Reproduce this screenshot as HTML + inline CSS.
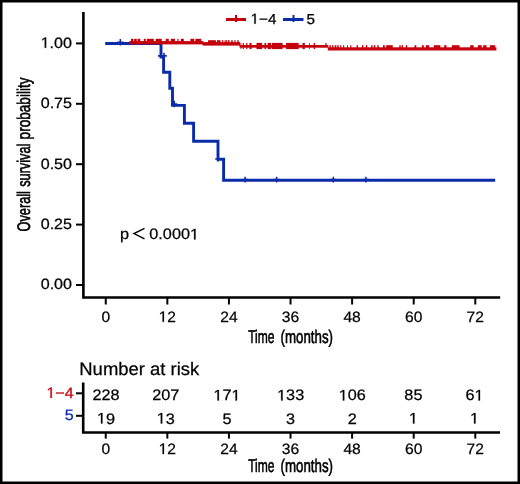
<!DOCTYPE html>
<html><head><meta charset="utf-8"><style>
html,body{margin:0;padding:0;background:#fff;}
body{width:520px;height:484px;overflow:hidden;position:relative;}
svg{position:absolute;left:0;top:0;display:block;will-change:transform;}
text{text-rendering:geometricPrecision;font-family:"Liberation Sans",sans-serif;fill:#000;stroke:#000;stroke-width:0.25px;}
.cond text{stroke-width:0.6px;}
</style></head><body>
<svg width="520" height="484" viewBox="0 0 520 484">
<rect x="0" y="0" width="520" height="484" fill="#fff"/>
<rect x="1.25" y="1.25" width="517.5" height="481.5" fill="none" stroke="#000" stroke-width="2.5"/>
<line x1="226" y1="19.5" x2="246" y2="19.5" stroke="#c5000c" stroke-width="3"/>
<line x1="236" y1="15" x2="236" y2="22" stroke="#c5000c" stroke-width="2"/>
<g transform="translate(250.50,23.70) scale(1.06,1)"><text x="0.000" y="0" font-size="14.4"> −4</text><path transform="translate(0.000,0) scale(0.007031,-0.007031)" d="M515 0L696 0L696 1409L530 1409L197 1180L197 1010L515 1237Z" fill="#000" stroke="#000" stroke-width="35.56"/></g>
<line x1="283" y1="19.5" x2="303.5" y2="19.5" stroke="#0a2ca8" stroke-width="3"/>
<line x1="293.5" y1="15" x2="293.5" y2="22" stroke="#0a2ca8" stroke-width="2"/>
<text transform="translate(306.60,23.70) scale(1.06,1)" font-size="14.4" text-anchor="start">5</text>
<path d="M83.4 12 V297.5 H500.2" stroke="#000" stroke-width="2.6" fill="none"/>
<g stroke="#000" stroke-width="2">
<line x1="76" y1="43.4" x2="83" y2="43.4"/>
<line x1="76" y1="103.8" x2="83" y2="103.8"/>
<line x1="76" y1="164.2" x2="83" y2="164.2"/>
<line x1="76" y1="224.6" x2="83" y2="224.6"/>
<line x1="76" y1="285.0" x2="83" y2="285.0"/>
<line x1="105.75" y1="298" x2="105.75" y2="304.5"/>
<line x1="167.34" y1="298" x2="167.34" y2="304.5"/>
<line x1="228.93" y1="298" x2="228.93" y2="304.5"/>
<line x1="290.52" y1="298" x2="290.52" y2="304.5"/>
<line x1="352.11" y1="298" x2="352.11" y2="304.5"/>
<line x1="413.70" y1="298" x2="413.70" y2="304.5"/>
<line x1="475.29" y1="298" x2="475.29" y2="304.5"/>
</g>
<g transform="translate(72.00,47.85) scale(1.08,1)"><text x="-29.000" y="0" font-size="14.9"> .00</text><path transform="translate(-29.000,0) scale(0.007275,-0.007275)" d="M515 0L696 0L696 1409L530 1409L197 1180L197 1010L515 1237Z" fill="#000" stroke="#000" stroke-width="34.36"/></g>
<text transform="translate(72.00,108.25) scale(1.08,1)" font-size="14.9" text-anchor="end">0.75</text>
<text transform="translate(72.00,168.65) scale(1.08,1)" font-size="14.9" text-anchor="end">0.50</text>
<text transform="translate(72.00,229.05) scale(1.08,1)" font-size="14.9" text-anchor="end">0.25</text>
<text transform="translate(72.00,289.45) scale(1.08,1)" font-size="14.9" text-anchor="end">0.00</text>
<text transform="translate(105.75,321.80) scale(1.04,1)" font-size="15.0" text-anchor="middle">0</text>
<g transform="translate(167.34,321.80) scale(1.04,1)"><text x="-8.342" y="0" font-size="15.0"> 2</text><path transform="translate(-8.342,0) scale(0.007324,-0.007324)" d="M515 0L696 0L696 1409L530 1409L197 1180L197 1010L515 1237Z" fill="#000" stroke="#000" stroke-width="34.13"/></g>
<text transform="translate(228.93,321.80) scale(1.04,1)" font-size="15.0" text-anchor="middle">24</text>
<text transform="translate(290.52,321.80) scale(1.04,1)" font-size="15.0" text-anchor="middle">36</text>
<text transform="translate(352.11,321.80) scale(1.04,1)" font-size="15.0" text-anchor="middle">48</text>
<text transform="translate(413.70,321.80) scale(1.04,1)" font-size="15.0" text-anchor="middle">60</text>
<text transform="translate(475.29,321.80) scale(1.04,1)" font-size="15.0" text-anchor="middle">72</text>
<g class="cond">
<text x="248.13" y="342.80" font-size="18.3" textLength="26.41" lengthAdjust="spacingAndGlyphs">Time</text>
<text x="280.58" y="342.80" font-size="18.3" textLength="52.47" lengthAdjust="spacingAndGlyphs">(months)</text>
</g>
<g class="cond" transform="translate(29.50,240) rotate(-90)">
<text x="8.60" y="0.00" font-size="18.3" textLength="40.27" lengthAdjust="spacingAndGlyphs">Overall</text>
<text x="53.14" y="0.00" font-size="18.3" textLength="43.22" lengthAdjust="spacingAndGlyphs">survival</text>
<text x="100.62" y="0.00" font-size="18.3" textLength="61.93" lengthAdjust="spacingAndGlyphs">probability</text>
</g>
<text transform="translate(119.90,239.40) scale(1.07,1)" font-size="15.2" text-anchor="start">p</text>
<path d="M144.5 228.3 L134 233.6 L144.5 238.9" fill="none" stroke="#000" stroke-width="1.4"/>
<g transform="translate(149.30,239.40) scale(1.07,1)"><text x="0.000" y="0" font-size="15.2">0.000 </text><path transform="translate(38.037,0) scale(0.007422,-0.007422)" d="M515 0L696 0L696 1409L530 1409L197 1180L197 1010L515 1237Z" fill="#000" stroke="#000" stroke-width="33.68"/></g>
<path d="M105.2 43.5 H161 V57 H163.6 V72.2 H169.8 V88.3 H172.5 V105.4 H184.4 V123.3 H193.6 V141.3 H218 V159.3 H223.6 V180.2 H495.2" stroke="#0a2ca8" stroke-width="2.9" fill="none"/>
<path d="M117.10 42.20 H123.50 M120.30 39.00 V45.40" stroke="#0a2ca8" stroke-width="1.5" fill="none"/>
<path d="M171.30 104.00 H177.30 M174.30 100.70 V107.30" stroke="#0a2ca8" stroke-width="1.5" fill="none"/>
<path d="M215.20 159.00 H220.80 M218.00 156.20 V161.80" stroke="#0a2ca8" stroke-width="1.5" fill="none"/>
<path d="M242.10 179.60 H248.10 M245.10 176.70 V182.50" stroke="#0a2ca8" stroke-width="1.5" fill="none"/>
<path d="M273.60 179.60 H279.60 M276.60 176.70 V182.50" stroke="#0a2ca8" stroke-width="1.5" fill="none"/>
<path d="M330.30 179.60 H336.30 M333.30 176.70 V182.50" stroke="#0a2ca8" stroke-width="1.5" fill="none"/>
<path d="M362.90 179.60 H368.90 M365.90 176.70 V182.50" stroke="#0a2ca8" stroke-width="1.5" fill="none"/>
<path d="M158.0 55.9 H166.8 M164.0 52.8 V59" stroke="#0a2ca8" stroke-width="1.6" fill="none"/>
<g fill="#c5000c"><rect x="129.30" y="41.10" width="73.90" height="3.30"/>
<rect x="202.60" y="42.10" width="37.50" height="3.50"/>
<rect x="239.50" y="45.00" width="88.90" height="2.70"/>
<rect x="327.80" y="47.30" width="168.60" height="3.20"/>
<rect x="131.00" y="38.80" width="2.40" height="3.20"/>
<rect x="134.20" y="38.80" width="2.60" height="3.20"/>
<rect x="137.60" y="38.80" width="2.70" height="3.20"/>
<rect x="143.80" y="38.80" width="1.90" height="3.20"/>
<rect x="146.80" y="38.80" width="7.00" height="3.20"/>
<rect x="155.70" y="38.80" width="6.10" height="3.20"/>
<rect x="165.70" y="38.80" width="3.10" height="3.20"/>
<rect x="170.80" y="38.80" width="4.20" height="3.20"/>
<rect x="177.30" y="38.80" width="1.20" height="3.20"/>
<rect x="180.80" y="38.80" width="3.00" height="3.20"/>
<rect x="190.40" y="38.80" width="3.80" height="3.20"/>
<rect x="195.40" y="38.80" width="5.80" height="3.20"/>
<rect x="208.10" y="40.20" width="7.80" height="2.80"/>
<rect x="217.00" y="40.20" width="3.50" height="2.80"/>
<rect x="222.00" y="40.20" width="1.20" height="2.80"/>
<rect x="224.60" y="40.20" width="0.90" height="2.80"/>
<rect x="225.70" y="40.20" width="1.20" height="2.80"/>
<rect x="227.80" y="40.20" width="1.70" height="2.80"/>
<rect x="231.20" y="40.20" width="1.50" height="2.80"/>
<rect x="234.40" y="40.20" width="1.20" height="2.80"/>
<rect x="237.30" y="40.20" width="1.40" height="2.80"/>
<rect x="240.50" y="42.90" width="0.80" height="6.20"/>
<rect x="242.80" y="42.90" width="1.10" height="6.20"/>
<rect x="246.20" y="42.90" width="1.20" height="6.20"/>
<rect x="249.50" y="42.90" width="2.10" height="6.20"/>
<rect x="256.50" y="42.90" width="5.70" height="6.20"/>
<rect x="264.50" y="42.90" width="1.60" height="6.20"/>
<rect x="267.60" y="42.90" width="3.50" height="6.20"/>
<rect x="271.80" y="42.90" width="10.80" height="6.20"/>
<rect x="286.00" y="42.90" width="2.00" height="6.20"/>
<rect x="288.00" y="42.90" width="10.70" height="6.20"/>
<rect x="302.50" y="42.90" width="2.30" height="6.20"/>
<rect x="309.00" y="42.90" width="0.80" height="6.20"/>
<rect x="313.70" y="42.90" width="1.40" height="6.20"/>
<rect x="325.30" y="43.00" width="1.20" height="4.00"/>
<rect x="329.50" y="45.20" width="1.40" height="2.80"/>
<rect x="332.10" y="45.20" width="1.40" height="2.80"/>
<rect x="334.70" y="45.20" width="1.70" height="2.80"/>
<rect x="337.30" y="45.20" width="1.40" height="2.80"/>
<rect x="340.20" y="45.20" width="1.10" height="2.80"/>
<rect x="343.10" y="45.20" width="1.10" height="2.80"/>
<rect x="347.10" y="45.20" width="0.90" height="2.80"/>
<rect x="350.30" y="45.20" width="1.10" height="2.80"/>
<rect x="356.60" y="45.20" width="1.40" height="2.80"/>
<rect x="362.00" y="45.20" width="1.40" height="2.80"/>
<rect x="365.80" y="45.20" width="1.40" height="2.80"/>
<rect x="371.20" y="45.20" width="1.40" height="2.80"/>
<rect x="373.90" y="45.20" width="1.40" height="2.80"/>
<rect x="377.30" y="45.20" width="1.40" height="2.80"/>
<rect x="383.00" y="45.20" width="1.80" height="2.80"/>
<rect x="386.20" y="45.20" width="6.50" height="2.80"/>
<rect x="399.30" y="45.20" width="1.40" height="2.80"/>
<rect x="401.60" y="45.20" width="1.40" height="2.80"/>
<rect x="405.80" y="45.20" width="1.40" height="2.80"/>
<rect x="414.50" y="45.20" width="1.80" height="2.80"/>
<rect x="421.90" y="45.20" width="1.90" height="2.80"/>
<rect x="425.80" y="45.20" width="3.40" height="2.80"/>
<rect x="433.80" y="45.20" width="6.60" height="2.80"/>
<rect x="444.20" y="45.20" width="2.30" height="2.80"/>
<rect x="451.90" y="45.20" width="7.70" height="2.80"/>
<rect x="470.20" y="45.20" width="3.40" height="2.80"/>
<rect x="477.90" y="45.20" width="3.80" height="2.80"/>
<rect x="483.20" y="45.20" width="3.30" height="2.80"/>
<rect x="489.90" y="45.20" width="5.30" height="2.80"/></g>
<text transform="translate(79.30,374.50) scale(1.025,1)" font-size="18" text-anchor="start">Number at risk</text>
<path d="M83.2 382.5 V432.5 H500" stroke="#000" stroke-width="2.6" fill="none"/>
<g stroke="#000" stroke-width="2">
<line x1="76" y1="393.3" x2="83" y2="393.3"/>
<line x1="76" y1="415.8" x2="83" y2="415.8"/>
<line x1="105.75" y1="433" x2="105.75" y2="438.6"/>
<line x1="167.34" y1="433" x2="167.34" y2="438.6"/>
<line x1="228.93" y1="433" x2="228.93" y2="438.6"/>
<line x1="290.52" y1="433" x2="290.52" y2="438.6"/>
<line x1="352.11" y1="433" x2="352.11" y2="438.6"/>
<line x1="413.70" y1="433" x2="413.70" y2="438.6"/>
<line x1="475.29" y1="433" x2="475.29" y2="438.6"/>
</g>
<g transform="translate(73.60,397.90) scale(1.07,1)"><text x="-25.444" y="0" font-size="15" style="fill:#c5000c;stroke:#c5000c"> −4</text><path transform="translate(-25.444,0) scale(0.007324,-0.007324)" d="M515 0L696 0L696 1409L530 1409L197 1180L197 1010L515 1237Z" fill="#c5000c" stroke="#c5000c" stroke-width="34.13"/></g>
<text transform="translate(73.60,420.40) scale(1.07,1)" font-size="15" text-anchor="end" style="fill:#0a2ca8;stroke:#0a2ca8">5</text>
<text transform="translate(105.95,400.45) scale(1.07,1)" font-size="15.2" text-anchor="middle">228</text>
<g transform="translate(105.95,423.55) scale(1.07,1)"><text x="-8.454" y="0" font-size="15.2"> 9</text><path transform="translate(-8.454,0) scale(0.007422,-0.007422)" d="M515 0L696 0L696 1409L530 1409L197 1180L197 1010L515 1237Z" fill="#000" stroke="#000" stroke-width="33.68"/></g>
<text transform="translate(165.74,400.45) scale(1.07,1)" font-size="15.2" text-anchor="middle">207</text>
<g transform="translate(165.74,423.55) scale(1.07,1)"><text x="-8.454" y="0" font-size="15.2"> 3</text><path transform="translate(-8.454,0) scale(0.007422,-0.007422)" d="M515 0L696 0L696 1409L530 1409L197 1180L197 1010L515 1237Z" fill="#000" stroke="#000" stroke-width="33.68"/></g>
<g transform="translate(226.93,400.45) scale(1.07,1)"><text x="-12.680" y="0" font-size="15.2"> 7 </text><path transform="translate(-12.680,0) scale(0.007422,-0.007422)" d="M515 0L696 0L696 1409L530 1409L197 1180L197 1010L515 1237Z" fill="#000" stroke="#000" stroke-width="33.68"/><path transform="translate(4.227,0) scale(0.007422,-0.007422)" d="M515 0L696 0L696 1409L530 1409L197 1180L197 1010L515 1237Z" fill="#000" stroke="#000" stroke-width="33.68"/></g>
<text transform="translate(226.93,423.55) scale(1.07,1)" font-size="15.2" text-anchor="middle">5</text>
<g transform="translate(290.62,400.45) scale(1.07,1)"><text x="-12.680" y="0" font-size="15.2"> 33</text><path transform="translate(-12.680,0) scale(0.007422,-0.007422)" d="M515 0L696 0L696 1409L530 1409L197 1180L197 1010L515 1237Z" fill="#000" stroke="#000" stroke-width="33.68"/></g>
<text transform="translate(290.62,423.55) scale(1.07,1)" font-size="15.2" text-anchor="middle">3</text>
<g transform="translate(352.31,400.45) scale(1.07,1)"><text x="-12.680" y="0" font-size="15.2"> 06</text><path transform="translate(-12.680,0) scale(0.007422,-0.007422)" d="M515 0L696 0L696 1409L530 1409L197 1180L197 1010L515 1237Z" fill="#000" stroke="#000" stroke-width="33.68"/></g>
<text transform="translate(352.31,423.55) scale(1.07,1)" font-size="15.2" text-anchor="middle">2</text>
<text transform="translate(413.40,400.45) scale(1.07,1)" font-size="15.2" text-anchor="middle">85</text>
<g transform="translate(413.40,423.55) scale(1.07,1)"><text x="-4.227" y="0" font-size="15.2"> </text><path transform="translate(-4.227,0) scale(0.007422,-0.007422)" d="M515 0L696 0L696 1409L530 1409L197 1180L197 1010L515 1237Z" fill="#000" stroke="#000" stroke-width="33.68"/></g>
<g transform="translate(474.49,400.45) scale(1.07,1)"><text x="-8.454" y="0" font-size="15.2">6 </text><path transform="translate(0.000,0) scale(0.007422,-0.007422)" d="M515 0L696 0L696 1409L530 1409L197 1180L197 1010L515 1237Z" fill="#000" stroke="#000" stroke-width="33.68"/></g>
<g transform="translate(474.49,423.55) scale(1.07,1)"><text x="-4.227" y="0" font-size="15.2"> </text><path transform="translate(-4.227,0) scale(0.007422,-0.007422)" d="M515 0L696 0L696 1409L530 1409L197 1180L197 1010L515 1237Z" fill="#000" stroke="#000" stroke-width="33.68"/></g>
<text transform="translate(105.75,453.90) scale(1.04,1)" font-size="15.0" text-anchor="middle">0</text>
<g transform="translate(167.34,453.90) scale(1.04,1)"><text x="-8.342" y="0" font-size="15.0"> 2</text><path transform="translate(-8.342,0) scale(0.007324,-0.007324)" d="M515 0L696 0L696 1409L530 1409L197 1180L197 1010L515 1237Z" fill="#000" stroke="#000" stroke-width="34.13"/></g>
<text transform="translate(228.93,453.90) scale(1.04,1)" font-size="15.0" text-anchor="middle">24</text>
<text transform="translate(290.52,453.90) scale(1.04,1)" font-size="15.0" text-anchor="middle">36</text>
<text transform="translate(352.11,453.90) scale(1.04,1)" font-size="15.0" text-anchor="middle">48</text>
<text transform="translate(413.70,453.90) scale(1.04,1)" font-size="15.0" text-anchor="middle">60</text>
<text transform="translate(475.29,453.90) scale(1.04,1)" font-size="15.0" text-anchor="middle">72</text>
<g class="cond">
<text x="248.13" y="471.55" font-size="18.3" textLength="26.41" lengthAdjust="spacingAndGlyphs">Time</text>
<text x="280.58" y="471.55" font-size="18.3" textLength="52.47" lengthAdjust="spacingAndGlyphs">(months)</text>
</g>
</svg>
</body></html>
